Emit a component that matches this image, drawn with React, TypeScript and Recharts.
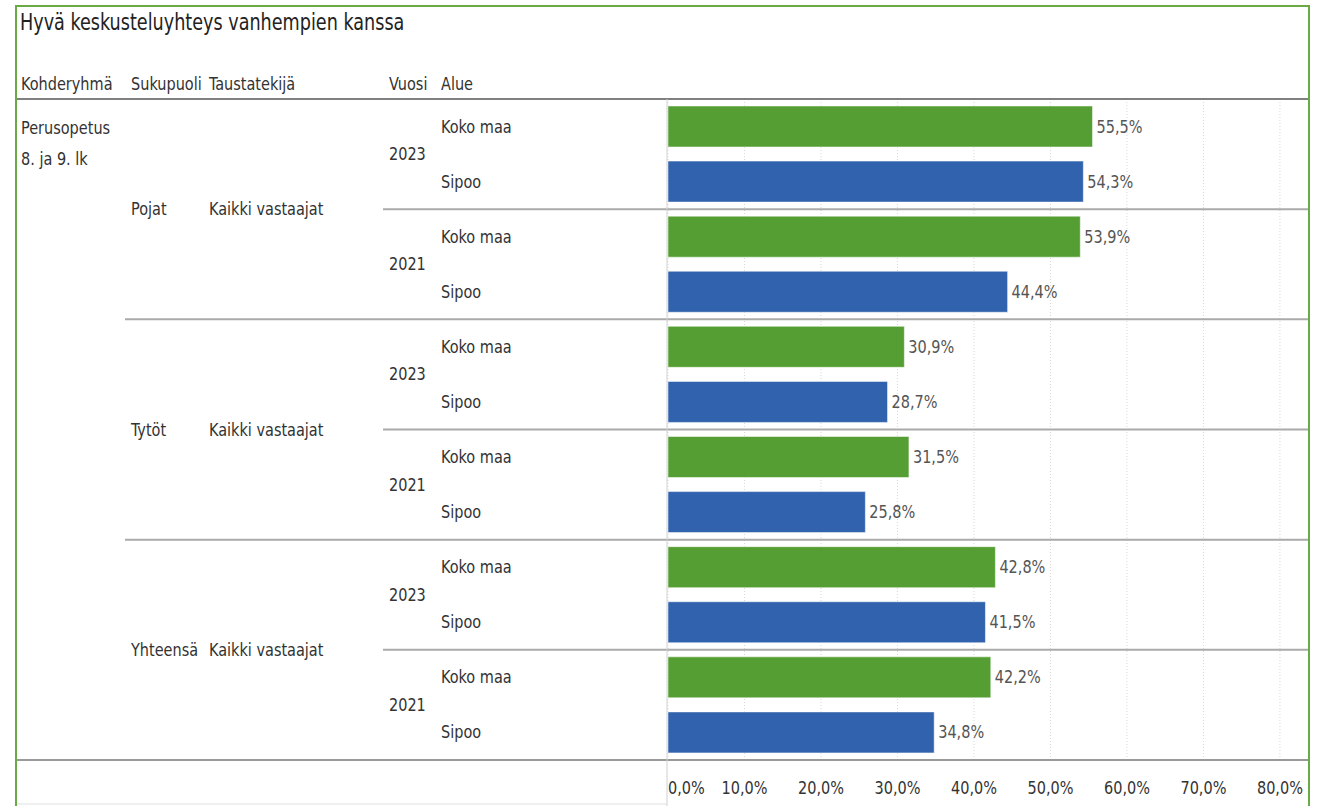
import React from 'react';
import { BarChart, Bar, XAxis, YAxis, CartesianGrid, Cell, LabelList } from 'recharts';

const title = 'Hyvä keskusteluyhteys vanhempien kanssa';
const headers = [
  { text: 'Kohderyhmä', x: 21 },
  { text: 'Sukupuoli', x: 131 },
  { text: 'Taustatekijä', x: 209 },
  { text: 'Vuosi', x: 389 },
  { text: 'Alue', x: 441 },
];
const kohderyhma = ['Perusopetus', '8. ja 9. lk'];
const sukupuoli = ['Pojat', 'Tytöt', 'Yhteensä'];
const taustatekija = 'Kaikki vastaajat';
const vuodet = ['2023', '2021'];
const alueet = ['Koko maa', 'Sipoo'];
// per sukupuoli x vuosi
const kokoMaa = [55.5, 53.9, 30.9, 31.5, 42.8, 42.2];
const sipoo = [54.3, 44.4, 28.7, 25.8, 41.5, 34.8];
const ticks = [0, 10, 20, 30, 40, 50, 60, 70, 80];

const COLORS: Record<string, string> = {
  'Koko maa': '#559e33',
  'Sipoo': '#3162ad',
};

const FONT = '"DejaVu Sans", sans-serif';
const TEXT = '#333';
const FS = 17.5;
const SX = 0.92;

const rows: { key: string; gender: number; year: number; alue: string; value: number }[] = [];
sukupuoli.forEach((g, gi) => {
  vuodet.forEach((v, vi) => {
    alueet.forEach((a, ai) => {
      const idx = gi * 2 + vi;
      rows.push({
        key: `${g}-${v}-${a}`,
        gender: gi,
        year: vi,
        alue: a,
        value: ai === 0 ? kokoMaa[idx] : sipoo[idx],
      });
    });
  });
});

const fmt = (v: number) => v.toFixed(1).replace('.', ',') + '%';

const W = 1317;
const H = 806;
const PLOT_LEFT = 668;
const PLOT_RIGHT = 1309;
const PLOT_TOP = 99;
const PLOT_BOTTOM = 760;
const ROW_H = (PLOT_BOTTOM - PLOT_TOP) / rows.length;

// narrow svg text, scaled around its anchor
function T({ x, y, s, anchor = 'start', fill = TEXT }: { x: number; y: number; s: string; anchor?: string; fill?: string }) {
  return (
    <text
      transform={`translate(${x},${y}) scale(${SX},1)`}
      x={0}
      y={0}
      dy={6}
      textAnchor={anchor as any}
      fontSize={FS}
      fill={fill}
      fontFamily={FONT}
      style={{ fontStretch: 'condensed' }}
    >
      {s}
    </text>
  );
}

function RowTick(props: any) {
  const { y, payload } = props;
  let i = rows.findIndex((r) => r.key === payload.value);
  if (i < 0) i = props.index ?? 0;
  const r = rows[i];
  const out: React.ReactNode[] = [];
  out.push(<T key="a" x={441} y={y} s={r.alue} />);
  if (i % 2 === 0) out.push(<T key="y" x={389} y={y + ROW_H / 2} s={vuodet[r.year]} />);
  if (i % 4 === 0) {
    const gy = y + ROW_H * 1.5;
    out.push(<T key="g" x={131} y={gy} s={sukupuoli[r.gender]} />, <T key="t" x={209} y={gy} s={taustatekija} />);
  }
  if (i % 2 === 1 && i < rows.length - 1) {
    const ly = y + ROW_H / 2;
    const x1 = i % 4 === 3 ? 125 : 383;
    out.push(<line key="l" x1={x1} x2={PLOT_RIGHT} y1={ly} y2={ly} stroke="#aaa" strokeWidth={2} />);
  }
  return <g>{out}</g>;
}

function AxisTick(props: any) {
  const { x, payload } = props;
  const first = payload.value === 0;
  return <T x={x} y={PLOT_BOTTOM + 28} s={fmt(payload.value)} anchor={first ? 'start' : 'middle'} />;
}

function ValueLabel(props: any) {
  const { x, y, width, height, value } = props;
  return <T x={x + width + 4} y={y + height / 2} s={fmt(Number(value))} fill="#555" />;
}

const htmlText: React.CSSProperties = {
  position: 'absolute',
  fontSize: FS,
  color: TEXT,
  whiteSpace: 'nowrap',
  transform: `scaleX(${SX})`,
  transformOrigin: 'left center',
};

export default function App() {
  return (
    <div style={{ position: 'fixed', left: 0, top: 0, width: W, height: H, background: '#fff', fontFamily: FONT, fontStretch: 'condensed', overflow: 'hidden' }}>
      <div style={{ ...htmlText, left: 20, top: 9, fontSize: 22.5, color: '#222', transform: 'scaleX(0.87)' }}>{title}</div>
      {headers.map((h) => (
        <div key={h.text} style={{ ...htmlText, left: h.x, top: 74 }}>
          {h.text}
        </div>
      ))}
      {kohderyhma.map((s, i) => (
        <div key={s} style={{ ...htmlText, left: 21, top: 118 + i * 31 }}>
          {s}
        </div>
      ))}
      <div style={{ position: 'absolute', left: 0, top: 0 }}>
        <BarChart
          width={W}
          height={H}
          data={rows}
          layout="vertical"
          margin={{ top: PLOT_TOP, bottom: 0, left: 17, right: W - PLOT_RIGHT }}
          barSize={41}
        >
          <CartesianGrid horizontal={false} stroke="#d8d8d8" strokeDasharray="1 2" />
          <XAxis
            type="number"
            domain={[0, 83.8]}
            ticks={ticks}
            allowDataOverflow
            axisLine={false}
            tickLine={false}
            tick={(p: any) => <AxisTick {...p} />}
            height={H - PLOT_BOTTOM}
          />
          <YAxis
            type="category"
            dataKey="key"
            width={PLOT_LEFT - 17}
            axisLine={false}
            tickLine={false}
            tick={(p: any) => <RowTick {...p} />}
            interval={0}
          />
          <Bar dataKey="value" isAnimationActive={false} stroke="#ffffff" strokeOpacity={0.5} strokeWidth={1}>
            {rows.map((r) => (
              <Cell key={r.key} fill={COLORS[r.alue]} />
            ))}
            <LabelList dataKey="value" content={(p: any) => <ValueLabel {...p} />} />
          </Bar>
        </BarChart>
      </div>
      <svg style={{ position: 'absolute', left: 0, top: 0, pointerEvents: 'none' }} width={W} height={H}>
        <line x1={17} x2={PLOT_RIGHT} y1={PLOT_TOP} y2={PLOT_TOP} stroke="#808080" strokeWidth={2} />
        <line x1={17} x2={PLOT_RIGHT} y1={PLOT_BOTTOM} y2={PLOT_BOTTOM} stroke="#999" strokeWidth={2} />
        <line x1={PLOT_LEFT - 1} x2={PLOT_LEFT - 1} y1={PLOT_TOP} y2={H} stroke="#d0d0d0" strokeWidth={1} />
        <line x1={17} x2={PLOT_LEFT - 1} y1={H - 2} y2={H - 2} stroke="#e0e0e0" strokeWidth={1} />
        <rect x={16} y={6} width={1293} height={H + 10} fill="none" stroke="#6aaa45" strokeWidth={2} />
      </svg>
    </div>
  );
}
